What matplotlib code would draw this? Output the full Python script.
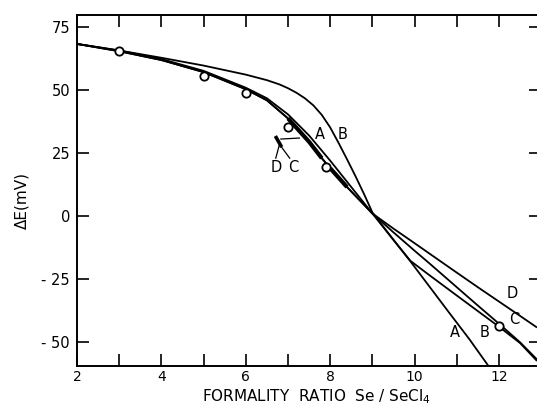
import matplotlib
matplotlib.use("Agg")
import matplotlib.pyplot as plt
import numpy as np

plt.rcParams['font.family'] = ['DejaVu Sans']

# Curve data (formality ratio, Delta E in mV)
xA = [2, 3, 4, 5, 6, 6.5, 7, 7.5, 8, 8.5, 9, 9.5, 9.9, 10.35, 10.8, 11.3, 11.75]
yA = [68.4, 65.8, 62.4, 57.7, 51.0, 46.8, 40.4, 32, 22, 11.5, 1, -9.5, -18, -28, -38, -49, -59.6]

xB = [2, 3, 4, 5, 6, 6.5, 6.8, 7.0, 7.2, 7.4, 7.6, 7.8, 8.0, 8.2, 8.4, 8.6, 8.8, 9.0,
      9.5, 9.9, 10.35, 11, 11.5, 12, 12.5, 12.9]
yB = [68.4, 65.8, 62.9, 59.8, 56.2, 54.0, 52.3, 50.8, 49.0, 46.8, 44.0, 40.2, 35.2, 29.0, 22.5, 15.8, 8.8, 1.4,
      -9.5, -17.8, -23.5, -31.6, -37.8, -44, -50.5, -57.6]

xC = [2, 3, 4, 5, 6, 6.5, 7, 7.5, 7.8, 8, 8.4, 9, 9.5, 10, 10.35, 11, 11.5, 12, 12.5, 12.9]
yC = [68.4, 65.5, 62.0, 57.2, 50.4, 46.0, 38.8, 29.5, 23, 19, 11.5, 1, -6.5, -13.8, -18.8, -28.3, -35.6, -42.8, -50.2, -57]

xD = [2, 3, 4, 5, 6, 6.5, 7, 7.5, 7.8, 8, 8.4, 9, 9.5, 10, 10.35, 11, 11.5, 12, 12.5, 12.9]
yD = [68.4, 65.5, 62.0, 57.2, 50.4, 46.0, 38.8, 29.5, 23, 19, 11.5, 1, -5, -10.8, -14.9, -22.5, -28.3, -34, -39.7, -44.3]

# Measured points (open circles)
px = [3, 5, 6, 7, 7.9, 12]
py = [65.6, 55.6, 49.0, 35.5, 19.5, -43.6]

xticks = [2, 4, 6, 8, 10, 12]
yticks = [75, 50, 25, 0, -25, -50]
yticklabels = ['75', '50', '25', '0', '- 25', '- 50']

fig = plt.figure(figsize=(5.37, 4.11), dpi=100)
ppu = 460 / 10.9
ax = fig.add_axes([77/537, 1-366/411, 11*ppu/537, (366-15)/411])
ax.set_xlim(2, 13)
ax.set_ylim(-59.6, 79.9)

lw = 1.3
for xs, ys in [(xA, yA), (xB, yB), (xC, yC), (xD, yD)]:
    ax.plot(xs, ys, color='black', lw=lw, solid_capstyle='butt', solid_joinstyle='round', zorder=2)

# thick overlapping C/D segments
xC_arr = np.array(xC); yC_arr = np.array(yC)
m1 = (xC_arr >= 7) & (xC_arr <= 7.8)
ax.plot(xC_arr[m1], yC_arr[m1], color='black', lw=3.0, solid_capstyle='butt', zorder=2)
m2 = (xC_arr >= 8) & (xC_arr <= 8.4)
ax.plot(xC_arr[m2], yC_arr[m2], color='black', lw=3.0, solid_capstyle='butt', zorder=2)

ax.plot(px, py, 'o', ms=6, mfc='white', mec='black', mew=1.3, zorder=3)

lfs = 10.5
ax.text(7.75, 32.3, 'A', fontsize=lfs, ha='center', va='center')
ax.text(8.3, 32.3, 'B', fontsize=lfs, ha='center', va='center')
ax.text(6.72, 19.3, 'D', fontsize=lfs, ha='center', va='center')
ax.text(7.12, 19.3, 'C', fontsize=lfs, ha='center', va='center')
ax.text(12.32, -30.6, 'D', fontsize=lfs, ha='center', va='center')
ax.text(12.36, -41.3, 'C', fontsize=lfs, ha='center', va='center')
ax.text(11.66, -46.1, 'B', fontsize=lfs, ha='center', va='center')
ax.text(10.95, -46.1, 'A', fontsize=lfs, ha='center', va='center')

# D/C marker bar and leaders
ax.plot([6.7, 6.85], [31.8, 27.4], color='black', lw=2.6, solid_capstyle='butt')
ax.plot([6.83, 7.27], [30.6, 31.0], color='black', lw=0.9)
ax.plot([6.79, 6.71], [28.0, 23.0], color='black', lw=0.9)
ax.plot([6.82, 7.04], [28.0, 23.0], color='black', lw=0.9)

ax.spines['right'].set_visible(False)
for s in ['left', 'bottom', 'top']:
    ax.spines[s].set_linewidth(1.4)

ax.set_xticks(xticks)
ax.set_xticks(np.arange(3, 13, 1), minor=True)
ax.set_yticks(yticks)
ax.set_yticklabels(yticklabels)
ax.tick_params(axis='both', which='both', direction='in', width=1.2)
ax.tick_params(axis='x', which='both', length=8.5, top=True, pad=3, labelsize=10)
ax.tick_params(axis='y', which='both', length=8.5, right=True, pad=5, labelsize=10.5)

ax.set_xlabel('FORMALITY  RATIO  Se / SeCl$_4$', fontsize=11)
ax.xaxis.set_label_coords((316-77)/(11*ppu), -(387-366)/351)
ax.set_ylabel('ΔE(mV)', fontsize=11)
ax.yaxis.set_label_coords(-(77-29)/(11*ppu), 1-(200-15)/351)

fig.savefig('out.png', dpi=100)
